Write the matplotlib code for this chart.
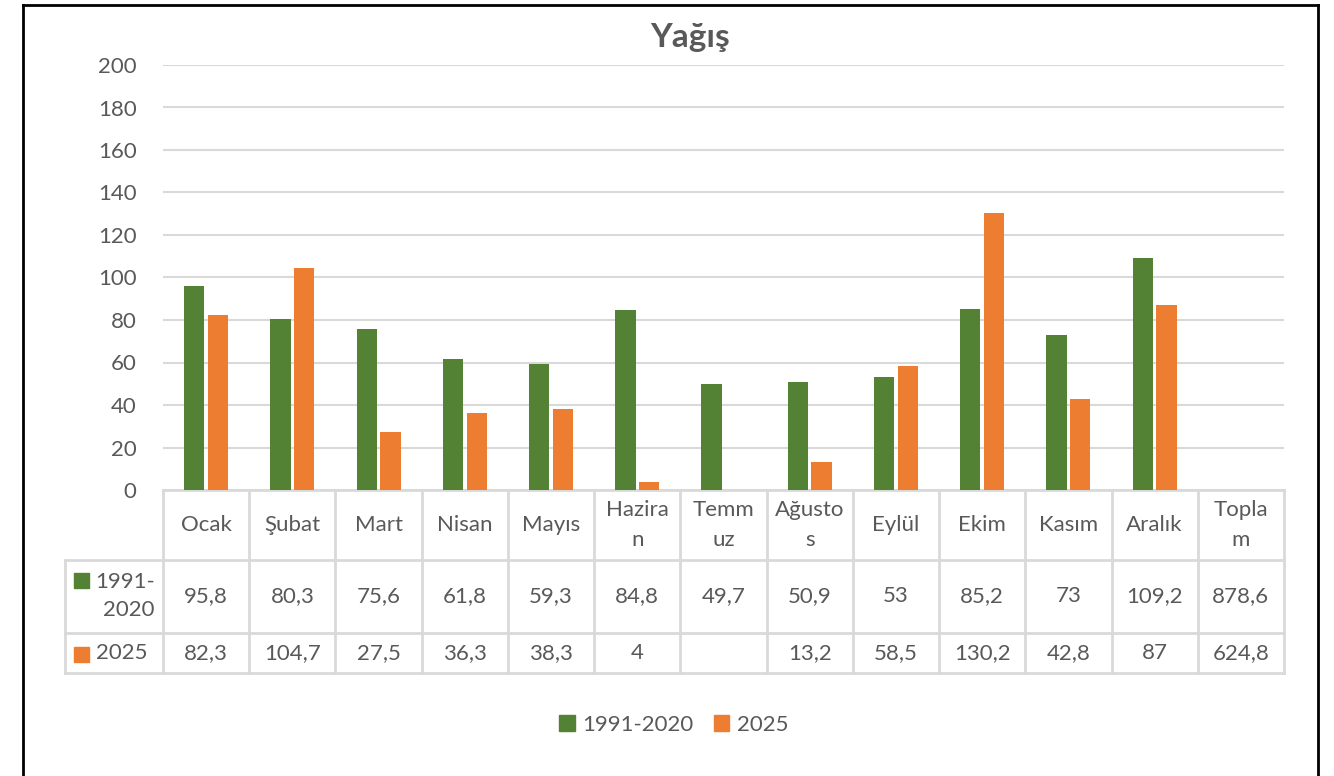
import matplotlib
matplotlib.use("Agg")
import matplotlib.pyplot as plt
import numpy as np
from matplotlib.transforms import blended_transform_factory
from matplotlib.patches import Rectangle
from matplotlib.lines import Line2D

# ---------------- data ----------------
categories = ["Ocak", "Şubat", "Mart", "Nisan", "Mayıs", "Haziran", "Temmuz",
              "Ağustos", "Eylül", "Ekim", "Kasım", "Aralık", "Toplam"]
header_labels = ["Ocak", "Şubat", "Mart", "Nisan", "Mayıs", "Hazira\nn", "Temm\nuz",
                 "Ağusto\ns", "Eylül", "Ekim", "Kasım", "Aralık", "Topla\nm"]
series_names = ["1991-2020", "2025"]
series_table_labels = ["1991-\n2020", "2025"]
normal_1991_2020 = [95.8, 80.3, 75.6, 61.8, 59.3, 84.8, 49.7, 50.9, 53, 85.2, 73, 109.2, 878.6]
year_2025 = [82.3, 104.7, 27.5, 36.3, 38.3, 4, None, 13.2, 58.5, 130.2, 42.8, 87, 624.8]
y_ticks = [0, 20, 40, 60, 80, 100, 120, 140, 160, 180, 200]
title = "Yağış"

# ---------------- style ----------------
GREEN = "#548235"
ORANGE = "#ED7D31"
TXT = "#595959"
GRID = "#D9D9D9"
plt.rcParams["font.family"] = ["Lato", "DejaVu Sans"]
FS = 16

W, H = 1334, 776
fig = plt.figure(figsize=(W / 100, H / 100), dpi=100)
fig.patch.set_facecolor("white")

def fx(px):
    return px / W

def fy(py):
    return 1 - py / H

left_px, right_px, top_px, bot_px = 163, 1284, 65, 490
ax = fig.add_axes([fx(left_px), fy(bot_px), fx(right_px - left_px), (bot_px - top_px) / H])

n = len(categories)
x = np.arange(n)
months = 12
bw = 0.235
off = 0.138

def clean(vals):
    return [np.nan if v is None else v for v in vals]

ax.bar(x[:months] - off, clean(normal_1991_2020[:months]), width=bw, color=GREEN, zorder=3)
ax.bar(x[:months] + off, clean(year_2025[:months]), width=bw, color=ORANGE, zorder=3)

ax.set_xlim(-0.5, n - 0.5)
ax.set_ylim(0, 200)
ax.set_yticks(y_ticks)
ax.set_yticklabels([str(t) for t in y_ticks], fontsize=FS, color=TXT)
ax.tick_params(axis="y", length=0, pad=19)
ax.set_xticks([])
for s in ax.spines.values():
    s.set_visible(False)
ax.grid(axis="y", color=GRID, linewidth=1.5, zorder=0)
ax.set_axisbelow(True)

# title
fig.text(fx(690), fy(37), title, ha="center", va="center", fontsize=24,
         fontweight="bold", color=TXT)

# ---------------- data table ----------------
tr = blended_transform_factory(ax.transData, fig.transFigure)
row_y = [490, 560, 633, 673]  # header top, row1 top, row2 top, bottom
lw = 2
for i in range(n + 1):
    xb = i - 0.5
    ax.add_line(Line2D([xb, xb], [fy(row_y[0]), fy(row_y[3])], transform=tr,
                       color=GRID, lw=lw, clip_on=False, zorder=1))
ax.add_line(Line2D([-0.5, n - 0.5], [fy(row_y[0]), fy(row_y[0])], transform=tr,
                   color=GRID, lw=lw, clip_on=False, zorder=1))
for yy in row_y[1:]:
    fig.add_artist(Line2D([fx(65), fx(right_px)], [fy(yy), fy(yy)], color=GRID, lw=lw))
fig.add_artist(Line2D([fx(65), fx(65)], [fy(row_y[1]), fy(row_y[3])], color=GRID, lw=lw))

def fmt(v):
    if v is None:
        return ""
    return f"{v:g}".replace(".", ",")

hdr_c = (row_y[0] + row_y[1]) / 2
r1_c = (row_y[1] + row_y[2]) / 2
r2_c = (row_y[2] + row_y[3]) / 2
for i in range(n):
    ax.text(i, fy(hdr_c), header_labels[i], transform=tr, ha="center", va="center",
            fontsize=FS, color=TXT, linespacing=1.65)
    ax.text(i, fy(r1_c), fmt(normal_1991_2020[i]), transform=tr, ha="center", va="center",
            fontsize=FS, color=TXT)
    ax.text(i, fy(r2_c), fmt(year_2025[i]), transform=tr, ha="center", va="center",
            fontsize=FS, color=TXT)

# row labels with colour keys
fig.add_artist(Rectangle((fx(74), fy(588)), fx(15), 15 / H, color=GREEN, transform=fig.transFigure))
fig.text(fx(125), fy(r1_c), series_table_labels[0], ha="center", va="center",
         fontsize=FS, color=TXT, multialignment="right", linespacing=1.5)
fig.add_artist(Rectangle((fx(74), fy(662)), fx(15), 15 / H, color=ORANGE, transform=fig.transFigure))
fig.text(fx(96), fy(r2_c), series_table_labels[1], ha="left", va="center",
         fontsize=FS, color=TXT)

# legend
handles = [Rectangle((0, 0), 1, 1, color=GREEN), Rectangle((0, 0), 1, 1, color=ORANGE)]
fig.legend(handles, series_names, loc="center", bbox_to_anchor=(fx(674), fy(725)), ncol=2,
           frameon=False, fontsize=FS, labelcolor=TXT, handlelength=0.7, handleheight=0.7,
           handletextpad=0.35, columnspacing=0.9)

# outer border (left, top, right)
for xs, ys in [([23, 23], [5, 790]), ([23, 1318], [5, 5]), ([1318, 1318], [5, 790])]:
    fig.add_artist(Line2D([fx(v) for v in xs], [fy(v) for v in ys], color="black", lw=2))

fig.savefig("out.png", dpi=100, facecolor="white")
